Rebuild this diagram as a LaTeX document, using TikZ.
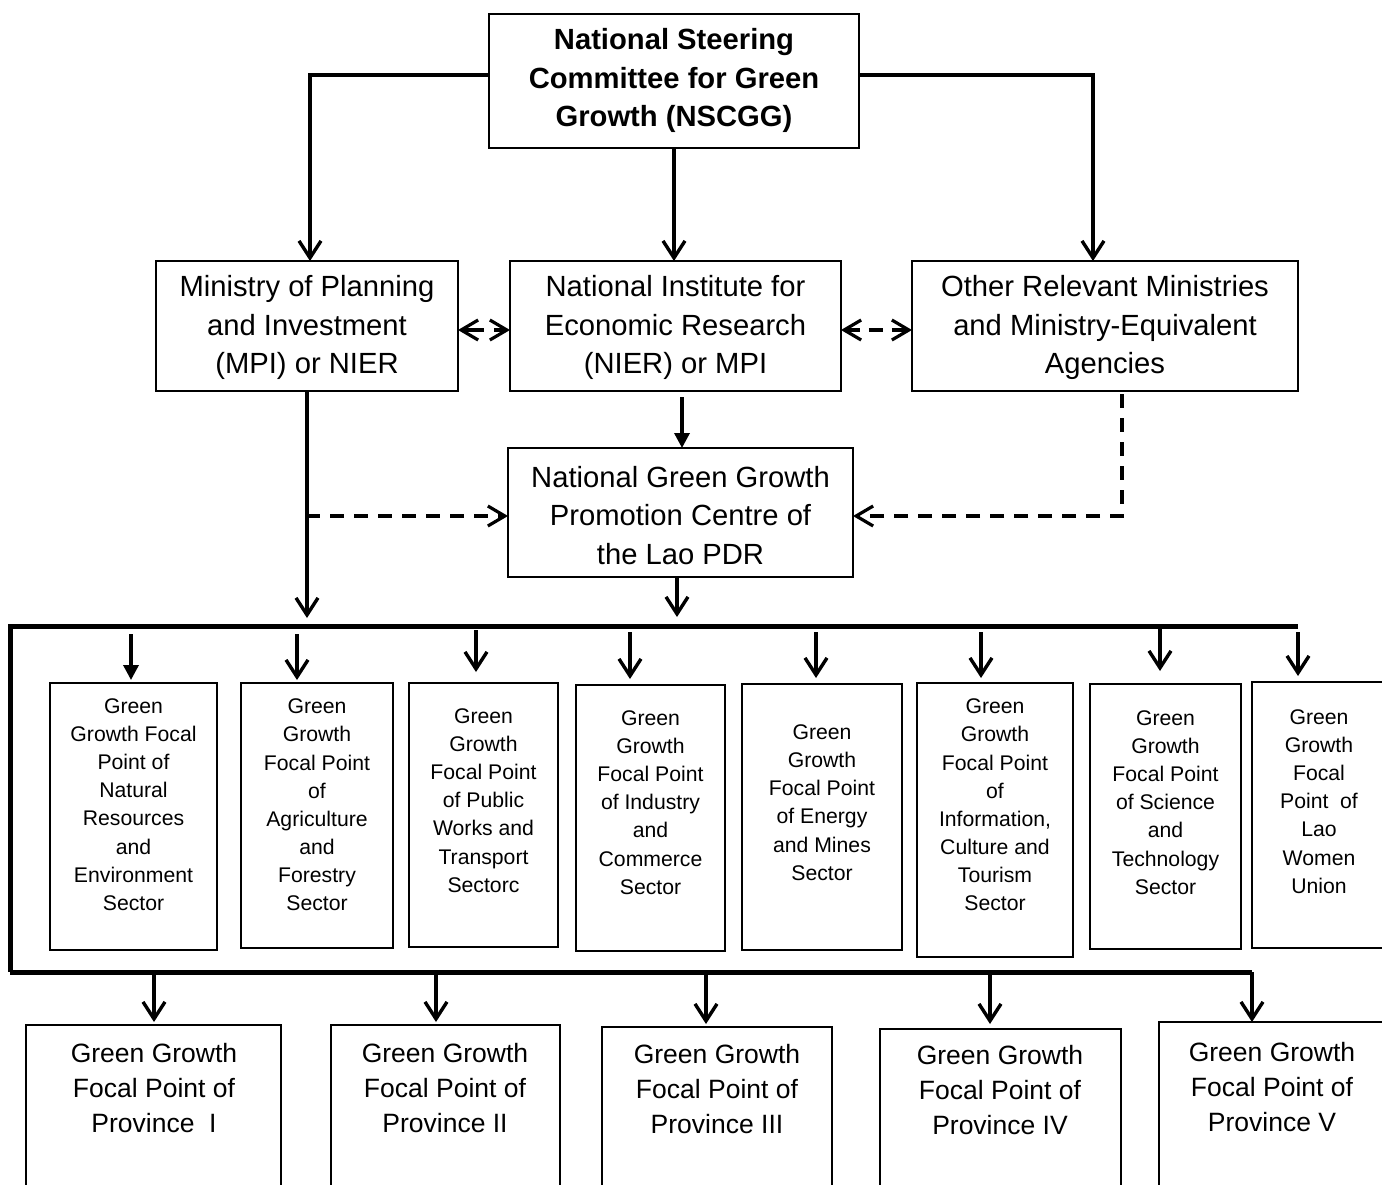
\documentclass[tikz,border=0pt]{standalone}
\usepackage{fontspec}
\setmainfont{Liberation Sans}
\usetikzlibrary{arrows.meta}
\begin{document}
\begin{tikzpicture}[x=1pt,y=-1pt,
  box/.style={draw, line width=1.5pt, inner sep=0pt, outer sep=0pt},
  bigtxt/.style={align=center, inner sep=0pt, font=\fontsize{29.2pt}{38.5pt}\selectfont},
  toptxt/.style={align=center, inner sep=0pt, font=\bfseries\fontsize{29.2pt}{38.5pt}\selectfont},
  sectxt/.style={align=center, inner sep=0pt, font=\fontsize{21.2pt}{28.15pt}\selectfont},
  provtxt/.style={align=center, inner sep=0pt, font=\fontsize{26.5pt}{35pt}\selectfont},
  arr/.style={line width=3.4pt, -{Straight Barb[length=17pt,width=22pt]}},
  farr/.style={line width=3.4pt, -{Triangle[length=15pt,width=15pt]}},
  darr/.style={line width=3.2pt, dash pattern=on 14pt off 10pt, -{Straight Barb[length=17pt,width=20pt]}},
  bar/.style={line width=5pt}
]
\useasboundingbox (0,0) rectangle (1382,1184);
\clip (0,0) rectangle (1382,1184);

% top
\node[box, minimum width=370pt, minimum height=134pt] (top) at (674,81) {};
\node[toptxt] (topT) at (674,80.5) {National Steering\\Committee for Green\\Growth (NSCGG)};

% middle row
\node[box, minimum width=302pt, minimum height=130pt] (mpi) at (307,326) {};
\node[bigtxt] (mpiT) at (307,327.5) {Ministry of Planning\\and Investment\\(MPI) or NIER};
\node[box, minimum width=331pt, minimum height=130pt] (nier) at (675.5,326) {};
\node[bigtxt] (nierT) at (675.5,327.5) {National Institute for\\Economic Research\\(NIER) or MPI};
\node[box, minimum width=386pt, minimum height=130pt] (other) at (1105,326) {};
\node[bigtxt] (otherT) at (1105,327.5) {Other Relevant Ministries\\and Ministry-Equivalent\\Agencies};

% centre
\node[box, minimum width=345pt, minimum height=129pt] (center) at (680.5,512.5) {};
\node[bigtxt] (centerT) at (680.5,515.5) {National Green Growth\\Promotion Centre of\\the Lao PDR};

% sector boxes
\node[box, minimum width=167pt, minimum height=267pt] (s1) at (133.5,816.5) {};
\node[sectxt] (s1T) at (133.5,804.5) {Green\\Growth Focal\\Point of\\Natural\\Resources\\and\\Environment\\Sector};
\node[box, minimum width=152pt, minimum height=265pt] (s2) at (317,815.5) {};
\node[sectxt] (s2T) at (317,805) {Green\\Growth\\Focal Point\\of\\Agriculture\\and\\Forestry\\Sector};
\node[box, minimum width=149pt, minimum height=264pt] (s3) at (483.5,815) {};
\node[sectxt] (s3T) at (483.5,800.5) {Green\\Growth\\Focal Point\\of Public\\Works and\\Transport\\Sectorc};
\node[box, minimum width=149pt, minimum height=266pt] (s4) at (650.5,818) {};
\node[sectxt] (s4T) at (650.5,802.5) {Green\\Growth\\Focal Point\\of Industry\\and\\Commerce\\Sector};
\node[box, minimum width=160pt, minimum height=266pt] (s5) at (822,817) {};
\node[sectxt] (s5T) at (822,802.5) {Green\\Growth\\Focal Point\\of Energy\\and Mines\\Sector};
\node[box, minimum width=156pt, minimum height=274pt] (s6) at (995,820) {};
\node[sectxt] (s6T) at (995,805) {Green\\Growth\\Focal Point\\of\\Information,\\Culture and\\Tourism\\Sector};
\node[box, minimum width=151pt, minimum height=265pt] (s7) at (1165.5,816.5) {};
\node[sectxt] (s7T) at (1165.5,802.5) {Green\\Growth\\Focal Point\\of Science\\and\\Technology\\Sector};
\node[box, minimum width=160pt, minimum height=266pt] (s8) at (1332,815) {};
\node[sectxt] (s8T) at (1319,801.5) {Green\\Growth\\Focal\\Point\ \ of\\Lao\\Women\\Union};

% province boxes
\node[box, minimum width=255pt, minimum height=205pt] (p1) at (153.5,1127.5) {};
\node[provtxt] (p1T) at (154,1088) {Green Growth\\Focal Point of\\Province\ \ I};
\node[box, minimum width=229pt, minimum height=205pt] (p2) at (445.5,1127.5) {};
\node[provtxt] (p2T) at (445,1088) {Green Growth\\Focal Point of\\Province II};
\node[box, minimum width=230pt, minimum height=205pt] (p3) at (717,1129.5) {};
\node[provtxt] (p3T) at (717,1089) {Green Growth\\Focal Point of\\Province III};
\node[box, minimum width=241pt, minimum height=205pt] (p4) at (1000.5,1131.5) {};
\node[provtxt] (p4T) at (1000,1090) {Green Growth\\Focal Point of\\Province IV};
\node[box, minimum width=261pt, minimum height=205pt] (p5) at (1289.5,1124.5) {};
\node[provtxt] (p5T) at (1272,1087) {Green Growth\\Focal Point of\\Province V};

% coordinates
\coordinate (barL) at (10,626);
\coordinate (barR) at (1298,626);
\coordinate (barBL) at (12,972);
\coordinate (barBR) at (1252,972);
\coordinate (dj) at (306,516);

% top connectors
\draw[arr] ([yshift=6pt]top.west) -| ([xshift=3pt]mpi.north);
\draw[arr] ([yshift=6pt]top.east) -| ([xshift=-12pt]other.north);
\draw[arr] (top.south) -- (top.south |- nier.north);

% dashed double arrows
\draw[line width=3.2pt, dash pattern=on 21pt off 10pt, {Straight Barb[length=17pt,width=20pt]}-{Straight Barb[length=17pt,width=20pt]}] ([yshift=-4pt]mpi.east) -- ([yshift=-4pt]nier.west);
\draw[line width=3.2pt, dash pattern=on 14pt off 9pt, {Straight Barb[length=17pt,width=20pt]}-{Straight Barb[length=17pt,width=20pt]}] ([yshift=-4pt]nier.east) -- ([yshift=-4pt]other.west);

% NIER to centre
\draw[farr, shorten <=6pt] ([xshift=6.5pt]nier.south) -- ([xshift=6.5pt]nier.south |- center.north);

% MPI down
\draw[line width=3.4pt, -{Straight Barb[length=17pt,width=22pt]}, shorten >=8pt] (mpi.south) -- (mpi.south |- barL);
\draw[darr] (dj) -- (dj -| center.west);
\draw[darr, shorten <=3pt] ([xshift=17pt]other.south) |- ([yshift=-3.5pt]center.east);

% centre down
\draw[arr, shorten >=9pt] ([xshift=-3.5pt]center.south) -- ([xshift=-3.5pt]center.south |- barL);

% bars
\draw[bar] (barR) -- (barL |- barR) -- (barL |- barBL);
\draw[bar] ([xshift=-2pt]barBL) -- (barBR);

% sector arrows
\coordinate (a1) at (131,634);
\coordinate (a2) at (297,634);
\coordinate (a3) at (476,630);
\coordinate (a4) at (630,632);
\coordinate (a5) at (816,632);
\coordinate (a6) at (981,632);
\coordinate (a7) at (1160,628);
\coordinate (a8) at (1298,632);
\draw[farr, shorten >=3pt] (a1) -- (a1 |- s1.north);
\draw[arr, shorten >=3pt] (a2) -- (a2 |- s2.north);
\draw[arr, shorten >=11pt] (a3) -- (a3 |- s3.north);
\draw[arr, shorten >=6pt] (a4) -- (a4 |- s4.north);
\draw[arr, shorten >=6pt] (a5) -- (a5 |- s5.north);
\draw[arr, shorten >=5pt] (a6) -- (a6 |- s6.north);
\draw[arr, shorten >=13pt] (a7) -- (a7 |- s7.north);
\draw[arr, shorten >=6pt] (a8) -- (a8 |- s8.north);

% province arrows
\coordinate (b1) at (154,975);
\coordinate (b2) at (436,975);
\coordinate (b3) at (706,975);
\coordinate (b4) at (990,975);
\draw[arr, shorten >=3pt] (b1) -- (b1 |- p1.north);
\draw[arr, shorten >=3pt] (b2) -- (b2 |- p2.north);
\draw[arr, shorten >=3pt] (b3) -- (b3 |- p3.north);
\draw[arr, shorten >=5pt] (b4) -- (b4 |- p4.north);
\draw[arr] (barBR) -- (barBR |- p5.north);
\end{tikzpicture}
\end{document}
